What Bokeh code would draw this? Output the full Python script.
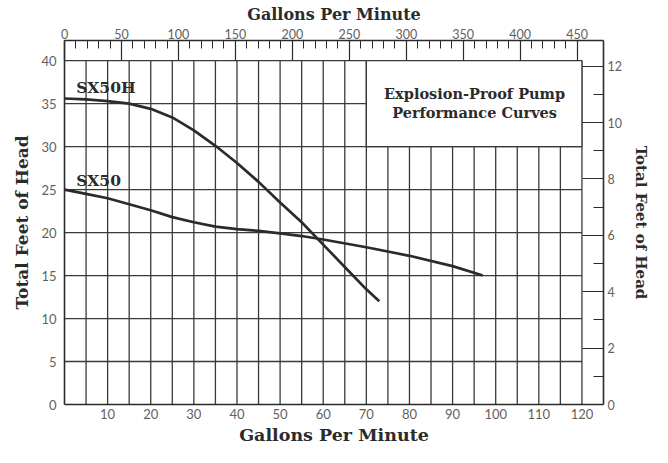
from bokeh.plotting import figure
from bokeh.models import Range1d, LinearAxis, FixedTicker, Label
from bokeh.embed import file_html
from bokeh.resources import INLINE

# ---- data ----
sx50h_gpm = [0, 5, 10, 15, 20, 25, 30, 35, 40, 45, 50, 55, 60, 65, 70, 73]
sx50h_head = [35.6, 35.5, 35.3, 35.0, 34.4, 33.4, 31.9, 30.1, 28.1, 25.9, 23.5, 21.2, 18.6, 16.0, 13.4, 12.0]
sx50_gpm = [0, 5, 10, 15, 20, 25, 30, 35, 40, 45, 50, 55, 60, 70, 80, 90, 97]
sx50_head = [25.0, 24.5, 24.0, 23.3, 22.6, 21.8, 21.2, 20.7, 20.4, 20.2, 19.9, 19.6, 19.2, 18.3, 17.3, 16.1, 15.0]

bottom_ticks = [10, 20, 30, 40, 50, 60, 70, 80, 90, 100, 110, 120]
left_ticks = [0, 5, 10, 15, 20, 25, 30, 35, 40]
top_ticks = [0, 50, 100, 150, 200, 250, 300, 350, 400, 450]
top_minor = list(range(0, 460, 10))
right_ticks = [0, 2, 4, 6, 8, 10, 12]
right_minor = [1, 3, 5, 7, 9, 11]
vgrid = list(range(5, 125, 5))
hgrid = [5, 10, 15, 20, 25, 30, 35, 40]

X_MAX = 125
Y_MAX = 42.35
GRID_X_END = 120
GRID_Y_END = 40
LPM_PER_GPM = 3.785
M_PER_FT = 0.3048

SERIF = "DejaVu Serif"
SANS = "Lato"
INK = "#2b2b2b"
TICK_TXT = "#5f5f5f"
GRID = "#3a3a3a"

p = figure(width=652, height=447, output_backend="svg", toolbar_location=None,
           x_range=Range1d(0, X_MAX), y_range=Range1d(0, Y_MAX),
           min_border_left=64, min_border_right=49, min_border_top=40, min_border_bottom=42)
p.outline_line_color = None
p.xgrid.visible = False
p.ygrid.visible = False
p.background_fill_color = "white"
p.border_fill_color = "white"

# grid as segments
p.segment(x0=vgrid, y0=[0] * len(vgrid), x1=vgrid, y1=[GRID_Y_END] * len(vgrid),
          line_color=GRID, line_width=1.3)
p.segment(x0=[0] * len(hgrid), y0=hgrid, x1=[GRID_X_END] * len(hgrid), y1=hgrid,
          line_color=GRID, line_width=1.3)

# text box
p.quad(left=[70], right=[120], bottom=[30], top=[40], fill_color="white",
       line_color=GRID, line_width=1.3)
for yy, txt in [(36.2, "Explosion-Proof Pump"), (34.0, "Performance Curves")]:
    p.add_layout(Label(x=95.1, y=yy, text=txt, text_align="center", text_baseline="middle",
                       text_font=SERIF, text_font_style="bold", text_font_size="14.5px",
                       text_color=INK))

# curves
p.line(sx50h_gpm, sx50h_head, line_color=INK, line_width=2.7)
p.line(sx50_gpm, sx50_head, line_color=INK, line_width=2.7)
p.add_layout(Label(x=2.7, y=35.75, text="SX50H", text_align="left", text_baseline="bottom",
                   text_font=SERIF, text_font_style="bold", text_font_size="15.5px", text_color=INK))
p.add_layout(Label(x=2.7, y=24.95, text="SX50", text_align="left", text_baseline="bottom",
                   text_font=SERIF, text_font_style="bold", text_font_size="15.5px", text_color=INK))


def style_axis(ax):
    ax.axis_line_color = INK
    ax.axis_line_width = 1.6
    ax.major_tick_line_color = INK
    ax.minor_tick_line_color = INK
    ax.major_tick_line_width = 1.2
    ax.minor_tick_line_width = 1.0
    ax.major_label_text_font = SANS
    ax.major_label_text_color = TICK_TXT
    ax.major_label_text_font_size = "13px"
    ax.major_tick_out = 0
    ax.minor_tick_out = 0
    ax.axis_label_text_font = SERIF
    ax.axis_label_text_font_style = "bold"
    ax.axis_label_text_color = INK


# bottom
xa = p.xaxis[0]
style_axis(xa)
xa.ticker = FixedTicker(ticks=bottom_ticks, minor_ticks=[])
xa.major_tick_in = 0
xa.minor_tick_in = 0
xa.major_label_standoff = 4
xa.axis_label = "Gallons Per Minute"
xa.axis_label_text_font_size = "17.5px"
xa.axis_label_standoff = 3

# left
ya = p.yaxis[0]
style_axis(ya)
ya.ticker = FixedTicker(ticks=left_ticks, minor_ticks=[])
ya.major_tick_in = 0
ya.minor_tick_in = 0
ya.major_label_standoff = 8
ya.axis_label = "Total Feet of Head"
ya.axis_label_text_font_size = "17px"
ya.axis_label_standoff = 6

# top (LPM-scaled)
p.extra_x_ranges = {"top": Range1d(0, X_MAX * LPM_PER_GPM)}
ta = LinearAxis(x_range_name="top")
style_axis(ta)
ta.ticker = FixedTicker(ticks=top_ticks, minor_ticks=top_minor)
ta.major_tick_in = 20
ta.minor_tick_in = 8
ta.major_label_standoff = 2
ta.major_label_text_font_size = "12.5px"
ta.axis_label = "Gallons Per Minute"
ta.axis_label_text_font_size = "16px"
ta.axis_label_standoff = 2
p.add_layout(ta, "above")

# right (meters)
p.extra_y_ranges = {"m": Range1d(0, Y_MAX * M_PER_FT)}
ra = LinearAxis(y_range_name="m")
style_axis(ra)
ra.ticker = FixedTicker(ticks=right_ticks, minor_ticks=right_minor)
ra.major_tick_in = 21
ra.minor_tick_in = 10
ra.major_label_standoff = 4
ra.major_label_text_font_size = "12.5px"
ra.axis_label = "Total Feet of Head"
ra.axis_label_text_font_size = "15px"
ra.axis_label_standoff = 7
p.add_layout(ra, "right")

open("out.html", "w").write(file_html(p, INLINE))
